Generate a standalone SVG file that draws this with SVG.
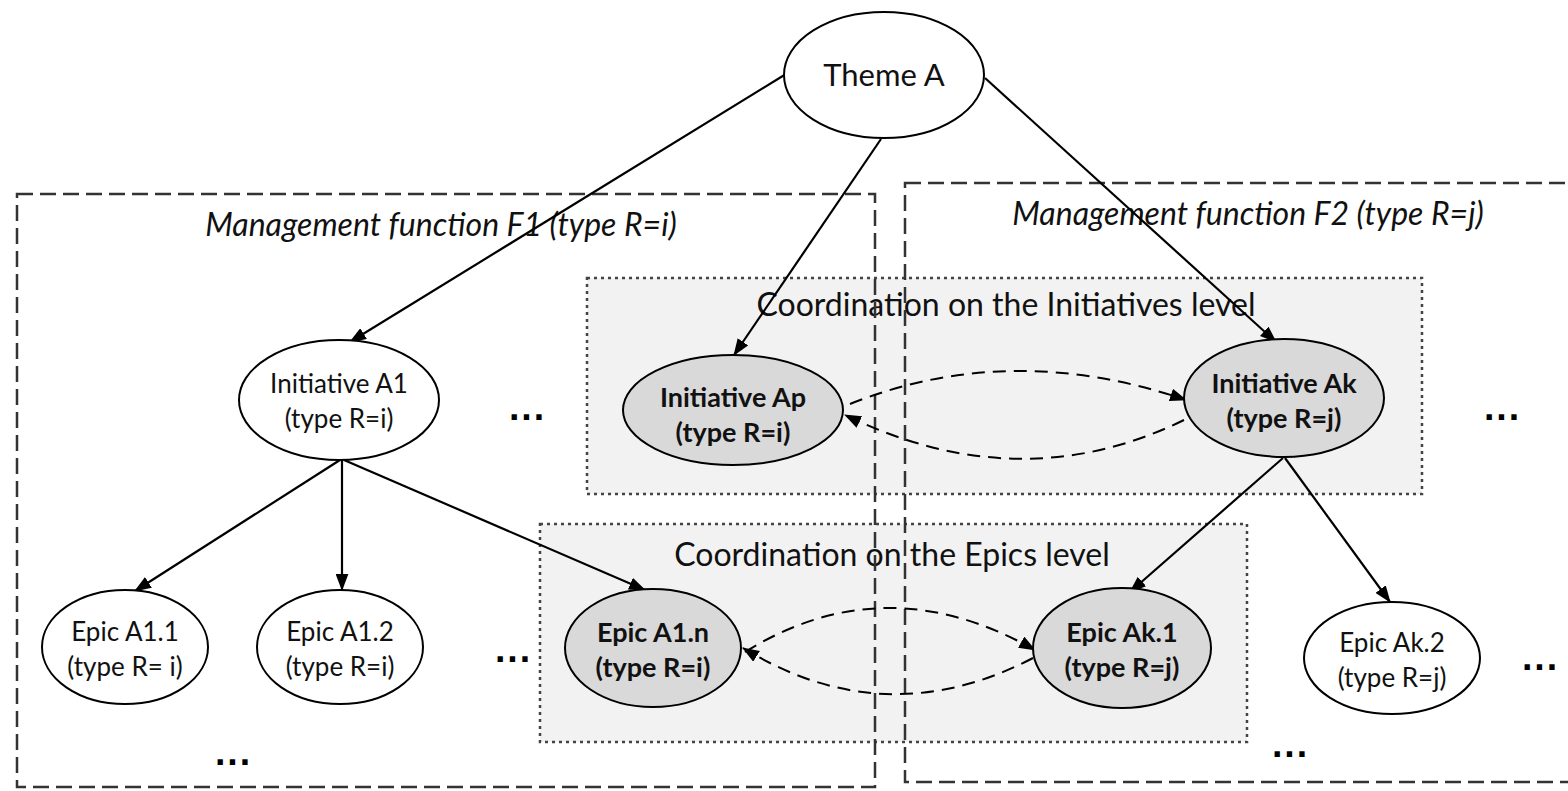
<svg xmlns="http://www.w3.org/2000/svg" width="1568" height="791" viewBox="0 0 1568 791">
<defs>
<marker id="ah" viewBox="0 0 16 12" refX="15" refY="6" markerWidth="17" markerHeight="13" markerUnits="userSpaceOnUse" orient="auto">
<path d="M0,0 L16,6 L0,12 z" fill="#000"/>
</marker>
<style>
.coord{fill:#f2f2f2;stroke:#444;stroke-width:2.5;stroke-dasharray:3 4}
.func{fill:none;stroke:#333;stroke-width:2.5;stroke-dasharray:16 7}
.ftitle{font-family:Lato,"Open Sans",sans-serif;font-style:italic;font-size:32px;fill:#111;text-anchor:middle}
.ctitle{font-family:Lato,"Open Sans",sans-serif;font-size:32px;fill:#111;text-anchor:middle}
.node{fill:#fff;stroke:#000;stroke-width:2}
.gnode{fill:#d9d9d9;stroke:#000;stroke-width:2}
.t{font-family:Lato,"Open Sans",sans-serif;font-size:26px;fill:#111;text-anchor:middle}
.tb{font-family:Lato,"Open Sans",sans-serif;font-size:27px;font-weight:bold;fill:#111;text-anchor:middle}
.dots{font-family:"DejaVu Sans",sans-serif;font-size:30px;font-weight:bold;letter-spacing:1px;fill:#000;text-anchor:middle}
.edge{fill:none;stroke:#000;stroke-width:2.2;marker-end:url(#ah)}
.dedge{fill:none;stroke:#000;stroke-width:2;stroke-dasharray:13 8;marker-end:url(#ah)}
</style>
</defs>

<g id="coord-initiatives">
<rect class="coord" x="587" y="278" width="835" height="216"/>
<text class="ctitle" x="1006" y="316">Coordination on the Initiatives level</text>
</g>
<g id="coord-epics">
<rect class="coord" x="540" y="524" width="707" height="218"/>
<text class="ctitle" x="892" y="566">Coordination on the Epics level</text>
</g>

<g id="function-f1">
<rect class="func" x="17" y="194" width="858" height="593"/>
<text class="ftitle" x="441" y="236">Management function F1 (type R=i)</text>
</g>
<g id="function-f2">
<rect class="func" x="905" y="183" width="680" height="599"/>
<text class="ftitle" x="1248" y="225">Management function F2 (type R=j)</text>
</g>

<g id="connectors">
<path class="edge" d="M786,74 L350,342"/>
<path class="edge" d="M881,139 L734,355"/>
<path class="edge" d="M985,78 L1276,342"/>
<path class="edge" d="M340,460 L135,591"/>
<path class="edge" d="M342,460 L342,590"/>
<path class="edge" d="M344,460 L645,590"/>
<path class="edge" d="M1283,458 L1130,592"/>
<path class="edge" d="M1285,458 L1390,602"/>
<path class="dedge" d="M850,404 Q1010,340 1186,400"/>
<path class="dedge" d="M1184,420 Q1020,500 845,415"/>
<path class="dedge" d="M745,652 Q885,565 1035,650"/>
<path class="dedge" d="M1033,658 Q885,735 743,648"/>
</g>

<g id="theme-a">
<ellipse class="node" cx="884" cy="75" rx="100" ry="63"/>
<text class="t" x="884" y="86" style="font-size:31px">Theme A</text>
</g>
<g id="initiative-a1">
<ellipse class="node" cx="339" cy="400" rx="100" ry="60"/>
<text class="t" x="339" y="393">Initiative A1</text>
<text class="t" x="339" y="428">(type R=i)</text>
</g>
<g id="initiative-ap">
<ellipse class="gnode" cx="733" cy="410" rx="110" ry="55"/>
<text class="tb" x="733" y="407">Initiative Ap</text>
<text class="tb" x="733" y="442">(type R=i)</text>
</g>
<g id="initiative-ak">
<ellipse class="gnode" cx="1284" cy="398" rx="100" ry="59"/>
<text class="tb" x="1284" y="393">Initiative Ak</text>
<text class="tb" x="1284" y="428">(type R=j)</text>
</g>
<g id="epic-a1-1">
<ellipse class="node" cx="125" cy="647" rx="83" ry="57"/>
<text class="t" x="125" y="641">Epic A1.1</text>
<text class="t" x="125" y="676">(type R= i)</text>
</g>
<g id="epic-a1-2">
<ellipse class="node" cx="340" cy="647" rx="83" ry="57"/>
<text class="t" x="340" y="641">Epic A1.2</text>
<text class="t" x="340" y="676">(type R=i)</text>
</g>
<g id="epic-a1-n">
<ellipse class="gnode" cx="653" cy="648" rx="88" ry="59"/>
<text class="tb" x="653" y="642">Epic A1.n</text>
<text class="tb" x="653" y="677">(type R=i)</text>
</g>
<g id="epic-ak-1">
<ellipse class="gnode" cx="1122" cy="648" rx="89" ry="60"/>
<text class="tb" x="1122" y="642">Epic Ak.1</text>
<text class="tb" x="1122" y="677">(type R=j)</text>
</g>
<g id="epic-ak-2">
<ellipse class="node" cx="1392" cy="658" rx="88" ry="56"/>
<text class="t" x="1392" y="652">Epic Ak.2</text>
<text class="t" x="1392" y="687">(type R=j)</text>
</g>

<g id="ellipses">
<text class="dots" x="527" y="420">...</text>
<text class="dots" x="1502" y="420">...</text>
<text class="dots" x="513" y="662">...</text>
<text class="dots" x="1540" y="670">...</text>
<text class="dots" x="233" y="765">...</text>
<text class="dots" x="1290" y="757">...</text>
</g>
</svg>
